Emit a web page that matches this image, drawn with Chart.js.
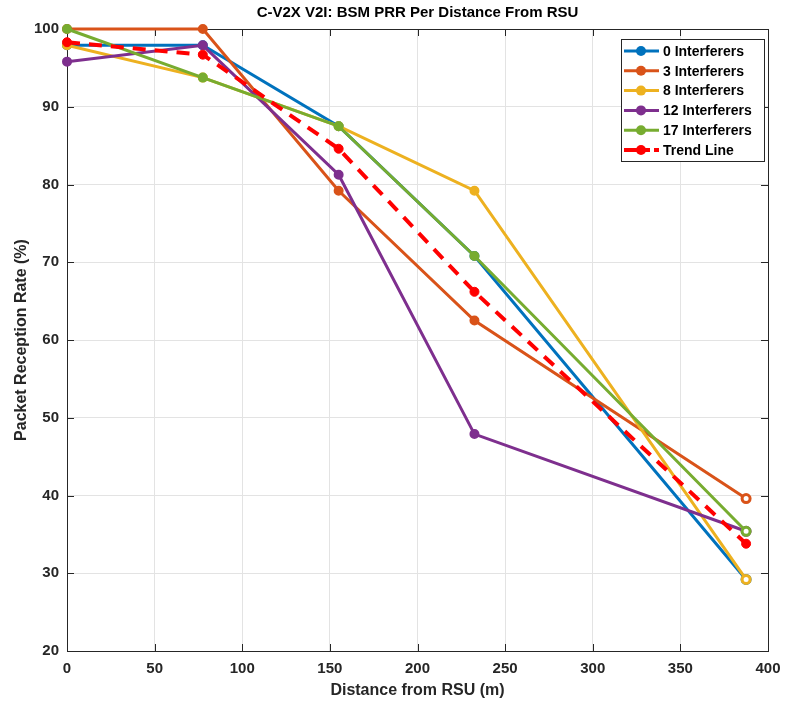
<!DOCTYPE html>
<html>
<head>
<meta charset="utf-8">
<script src="https://cdn.jsdelivr.net/npm/chart.js@4.4.0/dist/chart.umd.min.js"></script>
<style>
  html, body { margin: 0; padding: 0; background: #fff; }
  #wrap { width: 787px; height: 706px; }
</style>
</head>
<body>
<div id="wrap"><canvas id="prrChart" width="787" height="706"></canvas></div>
<script>
// distances (m) and packet reception rate (%) per interferer count
const distances = [0, 77.5, 155, 232.5, 387.5];
const seriesNames = ["0 Interferers", "3 Interferers", "8 Interferers", "12 Interferers", "17 Interferers", "Trend Line"];
const prr0 = [97.9, 97.9, 87.5, 70.8, 29.2];
const prr3 = [100, 100, 79.2, 62.5, 39.6];
const prr8 = [97.9, 93.75, 87.5, 79.2, 29.2];
const prr12 = [95.8, 97.9, 81.25, 47.9, 35.4];
const prr17 = [100, 93.75, 87.5, 70.8, 35.4];
const trend = [98.3, 96.7, 84.6, 66.2, 33.8];
const xTicks = [0, 50, 100, 150, 200, 250, 300, 350, 400];
const yTicks = [20, 30, 40, 50, 60, 70, 80, 90, 100];

const colors = ["#0072BD", "#D95319", "#EDB120", "#7E2F8E", "#77AC30", "#FF0000"];
const allSeries = [prr0, prr3, prr8, prr12, prr17, trend];
const FONT = "'Liberation Sans', Arial, Helvetica, sans-serif";
const INK = "#262626";

function toPoints(values) {
  return values.map((v, i) => ({ x: distances[i], y: v }));
}

const datasets = allSeries.map((vals, i) => {
  const isTrend = i === 5;
  const c = colors[i];
  return {
    label: seriesNames[i],
    data: toPoints(vals),
    borderColor: c,
    backgroundColor: c,
    borderWidth: isTrend ? 4 : 3,
    borderDash: isTrend ? [13, 9] : [],
    pointRadius: isTrend ? 4.5 : 4,
    pointBorderWidth: isTrend ? 1 : [2, 2, 2, 2, 3],
    pointBackgroundColor: isTrend ? c : vals.map((v, k) => (k === vals.length - 1 ? "#ffffff" : c)),
    pointBorderColor: c,
    tension: 0,
    clip: false,
    order: 10 - i
  };
});

// box, inward ticks on all four sides
const framePlugin = {
  id: "frame",
  beforeDatasetsDraw(chart) {
    const { ctx, chartArea: a, scales } = chart;
    const len = 7;
    ctx.save();
    ctx.strokeStyle = INK;
    ctx.lineWidth = 1;
    ctx.beginPath();
    xTicks.forEach((t) => {
      const px = Math.round(scales.x.getPixelForValue(t)) + 0.5;
      ctx.moveTo(px, a.bottom); ctx.lineTo(px, a.bottom - len);
      ctx.moveTo(px, a.top); ctx.lineTo(px, a.top + len);
    });
    yTicks.forEach((t) => {
      const py = Math.round(scales.y.getPixelForValue(t)) + 0.5;
      ctx.moveTo(a.left, py); ctx.lineTo(a.left + len, py);
      ctx.moveTo(a.right, py); ctx.lineTo(a.right - len, py);
    });
    ctx.stroke();
    ctx.strokeRect(Math.round(a.left) + 0.5, Math.round(a.top) + 0.5,
      Math.round(a.right - a.left), Math.round(a.bottom - a.top));
    ctx.restore();
  },
  afterDraw(chart) {
    const { ctx, chartArea: a } = chart;
    ctx.save();
    // title
    ctx.fillStyle = "#000";
    ctx.font = "bold 15px " + FONT;
    ctx.textAlign = "center";
    ctx.textBaseline = "middle";
    ctx.fillText("C-V2X V2I: BSM PRR Per Distance From RSU", (a.left + a.right) / 2, 13);

    // legend
    const bx = 621, by = 39, bw = 143, bh = 122;
    ctx.fillStyle = "#fff";
    ctx.fillRect(bx, by, bw, bh);
    ctx.strokeStyle = INK;
    ctx.lineWidth = 1;
    ctx.strokeRect(bx + 0.5, by + 0.5, bw, bh);
    ctx.font = "bold 14px " + FONT;
    ctx.textAlign = "left";
    seriesNames.forEach((name, i) => {
      const y = 51 + i * 19.8;
      const c = colors[i];
      ctx.strokeStyle = c;
      ctx.fillStyle = c;
      ctx.lineWidth = i === 5 ? 4 : 3;
      ctx.beginPath();
      if (i === 5) {
        ctx.moveTo(624, y); ctx.lineTo(650, y);
        ctx.moveTo(654, y); ctx.lineTo(659, y);
      } else {
        ctx.moveTo(624, y); ctx.lineTo(659, y);
      }
      ctx.stroke();
      ctx.beginPath();
      ctx.arc(641, y, 5, 0, Math.PI * 2);
      ctx.fill();
      ctx.fillStyle = "#000";
      ctx.fillText(name, 663, y + 1);
    });
    ctx.restore();
  }
};

new Chart(document.getElementById("prrChart"), {
  type: "line",
  data: { datasets },
  options: {
    responsive: false,
    animation: false,
    devicePixelRatio: 1,
    layout: { padding: { top: 29, right: 19, left: 0, bottom: 0 } },
    plugins: {
      legend: { display: false },
      title: { display: false },
      tooltip: { enabled: false }
    },
    scales: {
      x: {
        type: "linear",
        min: 0,
        max: 400,
        afterBuildTicks: (s) => { s.ticks = xTicks.map((v) => ({ value: v })); },
        afterFit: (s) => { s.height = 55; s.paddingLeft = 0; s.paddingRight = 0; },
        grid: { color: "#e3e3e3", drawTicks: false },
        border: { display: false },
        ticks: { color: INK, font: { family: FONT, size: 15, weight: "bold" }, padding: 9, maxRotation: 0 },
        title: {
          display: true,
          text: "Distance from RSU (m)",
          color: INK,
          font: { family: FONT, size: 16, weight: "bold" },
          padding: { top: 0, bottom: 6 }
        }
      },
      y: {
        min: 20,
        max: 100,
        afterBuildTicks: (s) => { s.ticks = yTicks.map((v) => ({ value: v })); },
        afterFit: (s) => { s.width = 67; s.paddingTop = 0; s.paddingBottom = 0; },
        grid: { color: "#e3e3e3", drawTicks: false },
        border: { display: false },
        ticks: { color: INK, font: { family: FONT, size: 15, weight: "bold" }, padding: 8 },
        title: {
          display: true,
          text: "Packet Reception Rate (%)",
          color: INK,
          font: { family: FONT, size: 16, weight: "bold" },
          padding: { top: 12, bottom: 0 }
        }
      }
    }
  },
  plugins: [framePlugin]
});
</script>
</body>
</html>
